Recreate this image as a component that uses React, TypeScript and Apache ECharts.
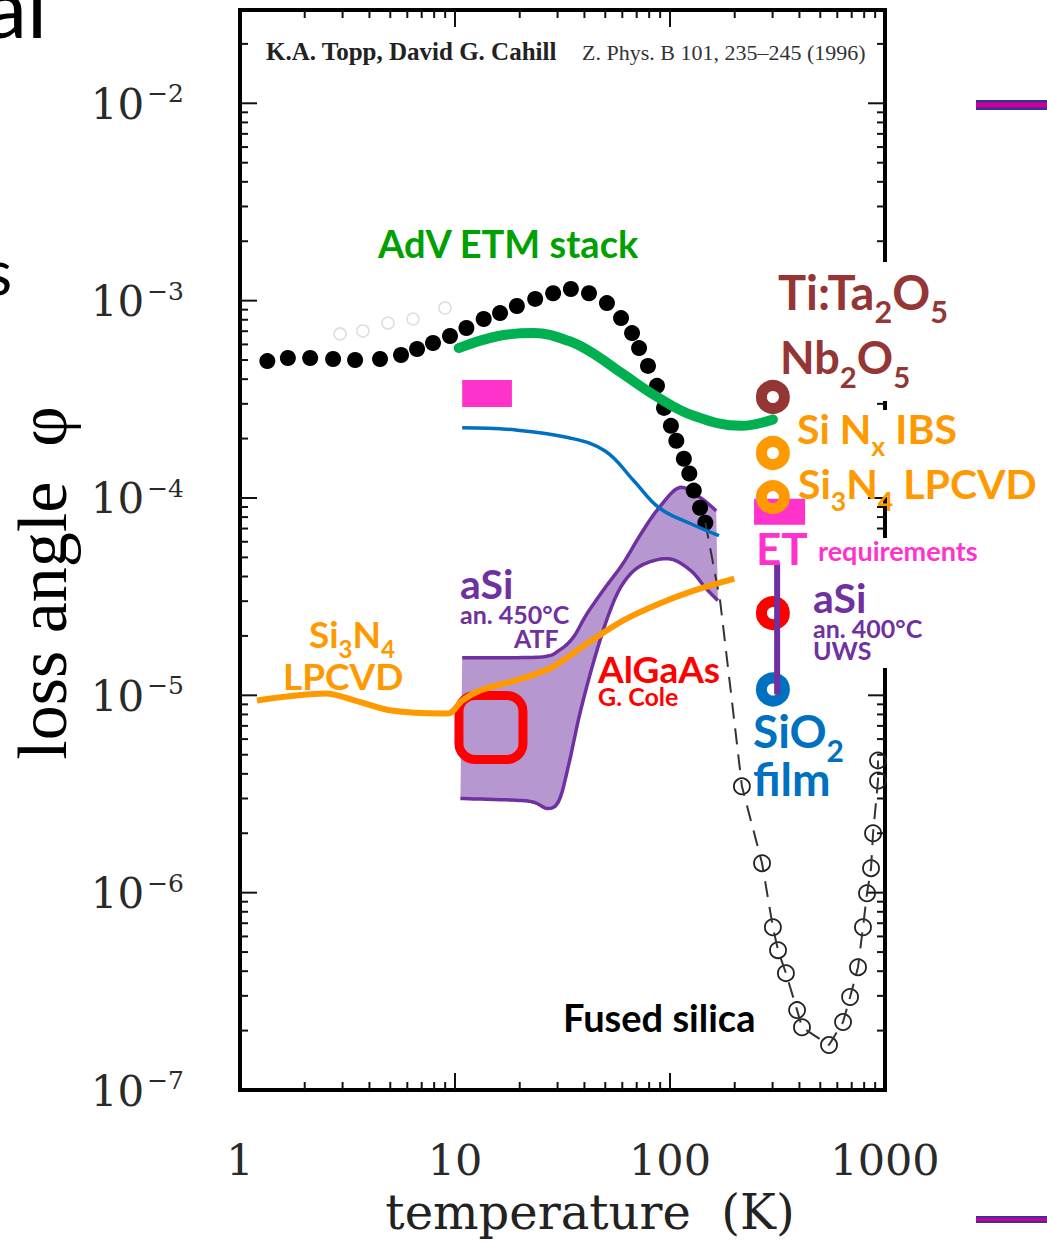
import React, { useEffect, useRef } from 'react';
import * as echarts from 'echarts';

// ---------- axes ----------
const T_MIN = 1;
const T_MAX = 1000;
const PHI_MIN = 1e-7;
const PHI_MAX = 2.97e-2;
const xDecades = [1, 10, 100];
const yDecades = [1e-7, 1e-6, 1e-5, 1e-4, 1e-3, 1e-2];
const logSteps = [1, 2, 3, 4, 5, 6, 7, 8, 9];

// ---------- bulk fused silica (Topp & Cahill), filled dots ----------
const bulkT = [1.34, 1.67, 2.12, 2.71, 3.43, 4.48, 5.61, 6.66, 7.9, 9.48, 11.3, 13.6, 16.2, 19.4, 23.6, 28.6, 34.6, 42.0, 50.9, 59.2, 66.6, 71.8, 79.0, 87.0, 93.8, 101, 107, 116, 123, 129, 138, 146];
const bulkPhi = [4.94e-4, 5.12e-4, 5.12e-4, 5.06e-4, 5.0e-4, 5.06e-4, 5.3e-4, 5.69e-4, 6.1e-4, 6.62e-4, 7.27e-4, 8.07e-4, 8.65e-4, 9.39e-4, 1.02e-3, 1.09e-3, 1.145e-3, 1.09e-3, 9.72e-4, 8.16e-4, 6.85e-4, 5.75e-4, 4.67e-4, 3.7e-4, 2.86e-4, 2.32e-4, 1.95e-4, 1.58e-4, 1.33e-4, 1.09e-4, 8.92e-5, 7.49e-5];

// faint second data set
const faintT = [2.92, 3.73, 4.88, 6.38, 8.98];
const faintPhi = [6.78e-4, 7.02e-4, 7.7e-4, 8.07e-4, 9.18e-4];

// high temperature points, open circles
const hotT = [216, 268, 301, 318, 346, 390, 411, 549, 638, 688, 749, 790, 825, 861, 880, 928, 928];
const hotPhi = [3.46e-6, 1.41e-6, 6.68e-7, 5.11e-7, 3.91e-7, 2.54e-7, 2.08e-7, 1.69e-7, 2.21e-7, 2.96e-7, 4.19e-7, 6.68e-7, 9.93e-7, 1.33e-6, 2.0e-6, 3.7e-6, 4.68e-6];

// dashed guide through the fused silica data
const guideT = [146, 150, 171, 194, 216, 268, 301, 318, 346, 390, 411, 549, 638, 688, 749, 790, 825, 861, 880, 928, 928];
const guidePhi = [7.49e-5, 6.44e-5, 3.02e-5, 9.41e-6, 3.46e-6, 1.41e-6, 6.68e-7, 5.11e-7, 3.91e-7, 2.54e-7, 2.08e-7, 1.69e-7, 2.21e-7, 2.96e-7, 4.19e-7, 6.68e-7, 9.93e-7, 1.33e-6, 2.0e-6, 3.7e-6, 4.68e-6];

// AdV ETM coating stack
const advT = [10.4, 15.9, 23.3, 33.9, 44.3, 60.4, 88.9, 129, 214, 301];
const advPhi = [5.75e-4, 6.62e-4, 6.85e-4, 6.24e-4, 5.37e-4, 4.25e-4, 3.21e-4, 2.61e-4, 2.32e-4, 2.5e-4];

// SiO2 film
const sio2T = [10.8, 19.2, 33.9, 49.9, 68.0, 88.9, 125, 169];
const sio2Phi = [2.27e-4, 2.21e-4, 2.02e-4, 1.73e-4, 1.22e-4, 8.92e-5, 7.4e-5, 6.44e-5];

// Si3N4 LPCVD
const sinT = [1.2, 2.51, 3.43, 5.04, 8.89, 9.58, 10.8, 13.1, 19.2, 28.0, 41.1, 60.4, 88.9, 129, 199];
const sinPhi = [9.41e-6, 1.02e-5, 9.41e-6, 8.38e-6, 8.09e-6, 8.18e-6, 9.41e-6, 1.06e-5, 1.19e-5, 1.38e-5, 1.83e-5, 2.39e-5, 2.91e-5, 3.39e-5, 3.9e-5];

// aSi annealed 450°C (ATF): upper and lower bounds of the band
const asiUpT = [10.8, 15.9, 25.9, 30.5, 35.4, 41.1, 49.9, 60.4, 73.3, 88.9, 111, 139, 164];
const asiUpPhi = [1.55e-5, 1.55e-5, 1.57e-5, 1.69e-5, 1.96e-5, 2.59e-5, 3.51e-5, 4.65e-5, 6.59e-5, 8.92e-5, 1.13e-4, 1.0e-4, 8.61e-5];
const asiLoT = [10.6, 19.2, 23.3, 27.1, 30.5, 33.9, 38.1, 44.3, 52.0, 60.4, 73.3, 98.9, 125, 146, 167];
const asiLoPhi = [3.0e-6, 2.94e-6, 2.87e-6, 2.67e-6, 2.94e-6, 4.52e-6, 8.09e-6, 1.5e-5, 2.59e-5, 3.68e-5, 4.54e-5, 4.92e-5, 4.28e-5, 3.51e-5, 3.02e-5];

// ET requirement boxes: [Tmin, Tmax, phiMin, phiMax]
const etBoxes = [
  [10.8, 18.4, 2.89e-4, 3.96e-4],
  [246, 425, 7.32e-5, 9.9e-5],
];

// AlGaAs (G. Cole)
const algaasT = 14.7;
const algaasPhi = 6.87e-6;

// room temperature films
const roomT = 301;
const roomPhi = [3.25e-4, 1.69e-4, 1.01e-4, 2.61e-5, 1.07e-5];
const roomColors = ['#943634', '#ff9900', '#ff9900', '#ff0000', '#0070c0'];

// aSi annealed 400°C (UWS) range
const asiUwsT = 315;
const asiUwsPhi = [4.7e-5, 1.01e-5];

// ---------- colours ----------
const BROWN = '#943634';
const ORANGE = '#ff9900';
const MAGENTA = '#ff33cc';
const PURPLE = '#7030a0';
const RED = '#ff0000';
const BLUE = '#0070c0';
const GREEN = '#00b050';
const GREEN_TEXT = '#00a000';

type Seg = [string, number?];
interface Label { segs: Seg[]; x: number; y: number; size: number; color: string }

const labels: Label[] = [
  { segs: [['AdV ETM stack']], x: 378, y: 256, size: 38, color: GREEN_TEXT },
  { segs: [['Ti:Ta'], ['2', 1], ['O'], ['5', 1]], x: 778, y: 308, size: 47, color: BROWN },
  { segs: [['Nb'], ['2', 1], ['O'], ['5', 1]], x: 780, y: 373, size: 45, color: BROWN },
  { segs: [['Si N'], ['x', 1], [' IBS']], x: 797, y: 443, size: 41, color: ORANGE },
  { segs: [['Si'], ['3', 1], ['N'], ['4', 1], [' LPCVD']], x: 798, y: 498, size: 41, color: ORANGE },
  { segs: [['ET']], x: 756, y: 563, size: 44, color: MAGENTA },
  { segs: [['requirements']], x: 818, y: 560, size: 27, color: MAGENTA },
  { segs: [['aSi']], x: 813, y: 612, size: 41, color: PURPLE },
  { segs: [['an. 400°C']], x: 813, y: 637, size: 25, color: PURPLE },
  { segs: [['UWS']], x: 813, y: 659, size: 25, color: PURPLE },
  { segs: [['SiO'], ['2', 1]], x: 753, y: 747, size: 46, color: BLUE },
  { segs: [['film']], x: 753, y: 795, size: 46, color: BLUE },
  { segs: [['Fused silica']], x: 563, y: 1030, size: 38, color: '#000' },
  { segs: [['aSi']], x: 460, y: 598, size: 41, color: PURPLE },
  { segs: [['an. 450°C']], x: 460, y: 623, size: 25, color: PURPLE },
  { segs: [['ATF']], x: 514, y: 647, size: 25, color: PURPLE },
  { segs: [['Si'], ['3', 1], ['N'], ['4', 1]], x: 309, y: 646, size: 37, color: ORANGE },
  { segs: [['LPCVD']], x: 283, y: 688, size: 37, color: ORANGE },
  { segs: [['AlGaAs']], x: 598, y: 681, size: 37, color: RED },
  { segs: [['G. Cole']], x: 598, y: 705, size: 25, color: RED },
];

let measureCtx: CanvasRenderingContext2D | null = null;
function measure(text: string, font: string): number {
  if (!measureCtx) measureCtx = document.createElement('canvas').getContext('2d');
  measureCtx!.font = font;
  return measureCtx!.measureText(text).width;
}

function textEl(text: string, x: number, y: number, font: string, fill: string, align = 'left', extra: any = {}) {
  return {
    type: 'text', x, y, z: 100, silent: true, ...extra,
    style: { text, font, fill, textAlign: align, textVerticalAlign: 'middle', align, verticalAlign: 'middle' },
  };
}

// place a label from its baseline; subscripts drop below it
function labelElements(l: Label): any[] {
  const els: any[] = [];
  let cx = l.x;
  for (const [t, sub] of l.segs) {
    const s = sub ? l.size * 0.65 : l.size;
    const base = sub ? l.y + l.size * 0.3 : l.y;
    const font = `bold ${s}px Lato`;
    els.push(textEl(t, cx, base - s * 0.35, font, l.color));
    cx += measure(t, font);
  }
  return els;
}

function catmull(pts: number[][], seg = 10): number[][] {
  const out: number[][] = [];
  for (let i = 0; i < pts.length - 1; i++) {
    const p0 = pts[Math.max(i - 1, 0)], p1 = pts[i], p2 = pts[i + 1], p3 = pts[Math.min(i + 2, pts.length - 1)];
    for (let k = 0; k < seg; k++) {
      const t = k / seg, t2 = t * t, t3 = t2 * t;
      const f = (a: number, b: number, c: number, d: number) =>
        0.5 * (2 * b + (-a + c) * t + (2 * a - 5 * b + 4 * c - d) * t2 + (-a + 3 * b - 3 * c + d) * t3);
      out.push([f(p0[0], p1[0], p2[0], p3[0]), f(p0[1], p1[1], p2[1], p3[1])]);
    }
  }
  out.push(pts[pts.length - 1]);
  return out;
}

const zip = (xs: number[], ys: number[]) => xs.map((x, i) => [x, ys[i]]);

export default function App() {
  const ref = useRef<HTMLDivElement>(null);

  useEffect(() => {
    if (!ref.current) return;
    const chart = echarts.init(ref.current, null, { renderer: 'svg' });

    // tick marks on all four sides: kind 1/2 = x major/minor, 3/4 = y major/minor
    const tickData: number[][] = [];
    xDecades.forEach((d) => logSteps.forEach((k) => {
      const v = d * k;
      if (v > T_MIN && v < T_MAX) tickData.push([v, k === 1 ? 1 : 2]);
    }));
    yDecades.forEach((d) => logSteps.forEach((k) => {
      const v = d * k;
      if (v > PHI_MIN * 1.0001 && v < PHI_MAX) tickData.push([v, k === 1 ? 3 : 4]);
    }));

    const graphicEls: any[] = [];
    // white text boxes hiding the right frame
    [[262, 401], [410, 497], [538, 668]].forEach(([y0, y1]) =>
      graphicEls.push({ type: 'rect', z: 1, silent: true, shape: { x: 793, y: y0, width: 210, height: y1 - y0 }, style: { fill: '#fff' } }));
    // slide decoration bars
    graphicEls.push({ type: 'rect', z: 100, shape: { x: 976, y: 100, width: 71, height: 10 }, style: { fill: '#3b2f9a' } });
    graphicEls.push({ type: 'rect', z: 100, shape: { x: 976, y: 102.5, width: 71, height: 5 }, style: { fill: '#cc0099' } });
    graphicEls.push({ type: 'rect', z: 100, shape: { x: 976, y: 1216, width: 71, height: 7 }, style: { fill: '#3b2f9a' } });
    graphicEls.push({ type: 'rect', z: 100, shape: { x: 976, y: 1218, width: 71, height: 3 }, style: { fill: '#cc0099' } });
    // slide title fragments
    graphicEls.push(textEl('al', 47, 35 - 85 * 0.35, '85px Lato', '#000', 'right'));
    graphicEls.push(textEl('s', 12, 293 - 62 * 0.35, '62px Lato', '#000', 'right'));
    // citation header
    graphicEls.push(textEl('K.A. Topp, David G. Cahill', 266, 60 - 25 * 0.34, 'bold 25px "Liberation Serif"', '#222'));
    graphicEls.push(textEl('Z. Phys. B 101, 235–245 (1996)', 582, 60 - 22 * 0.34, '22px "Liberation Serif"', '#333'));
    // axis names
    graphicEls.push(textEl('temperature  (K)', 590, 1229 - 48 * 0.35, '48px "DejaVu Serif"', '#222', 'center'));
    graphicEls.push(textEl('loss angle  φ', 42, 583, '70px "Liberation Serif"', '#000', 'center', { rotation: Math.PI / 2 }));
    labels.forEach((l) => graphicEls.push(...labelElements(l)));

    const option: any = {
      animation: false,
      backgroundColor: '#fff',
      grid: {
        left: 240, top: 10, width: 645, height: 1080,
        show: true, borderColor: '#000', borderWidth: 4, backgroundColor: 'transparent',
        containLabel: false, outerBoundsMode: 'none',
      },
      xAxis: {
        type: 'log', logBase: 10, min: T_MIN, max: T_MAX,
        axisLine: { show: false }, axisTick: { show: false }, splitLine: { show: false },
        axisLabel: {
          margin: 48, color: '#2a2a2a', fontFamily: 'DejaVu Serif', fontSize: 43,
          showMinLabel: true, showMaxLabel: true,
          formatter: (v: number) => {
            const e = Math.log10(v);
            return Math.abs(e - Math.round(e)) < 1e-6 ? String(Math.round(v)) : '';
          },
        },
      },
      yAxis: {
        type: 'log', logBase: 10, min: PHI_MIN, max: PHI_MAX, splitNumber: 6,
        axisLine: { show: false }, axisTick: { show: false }, splitLine: { show: false },
        axisLabel: {
          margin: 56, showMinLabel: true, showMaxLabel: true,
          formatter: (v: number) => {
            const e = Math.log10(v);
            const r = Math.round(e);
            if (Math.abs(e - r) > 1e-6) return '';
            return `{b|10}{s|−${-r}}`;
          },
          rich: {
            b: { fontFamily: 'DejaVu Serif', fontSize: 42, lineHeight: 44, color: '#2a2a2a', verticalAlign: 'bottom' },
            s: { fontFamily: 'DejaVu Serif', fontSize: 25, lineHeight: 26, color: '#2a2a2a', verticalAlign: 'top', padding: [0, 0, 0, 3] },
          },
        },
      },
      series: [
        {
          type: 'custom', z: 0, silent: true, clip: false,
          data: tickData,
          renderItem: (params: any, api: any) => {
            const v = api.value(0);
            const kind = api.value(1);
            const cs = params.coordSys;
            const len = kind === 1 || kind === 3 ? 17 : 8;
            const style = { stroke: '#111', lineWidth: 2 };
            if (kind <= 2) {
              const px = api.coord([v, PHI_MIN])[0];
              const b = cs.y + cs.height;
              return {
                type: 'group', children: [
                  { type: 'line', shape: { x1: px, y1: b, x2: px, y2: b - len }, style },
                  { type: 'line', shape: { x1: px, y1: cs.y, x2: px, y2: cs.y + len }, style },
                ],
              };
            }
            const py = api.coord([T_MIN, v])[1];
            const r = cs.x + cs.width;
            return {
              type: 'group', children: [
                { type: 'line', shape: { x1: cs.x, y1: py, x2: cs.x + len, y2: py }, style },
                { type: 'line', shape: { x1: r, y1: py, x2: r - len, y2: py }, style },
              ],
            };
          },
        },
        {
          type: 'scatter', silent: true, symbol: 'circle', symbolSize: 12,
          itemStyle: { color: 'rgba(0,0,0,0)', borderColor: '#dedede', borderWidth: 1.5, opacity: 1 },
          data: zip(faintT, faintPhi),
        },
        {
          type: 'scatter', silent: true, symbol: 'circle', symbolSize: 16,
          itemStyle: { color: '#000', opacity: 1 },
          data: zip(bulkT, bulkPhi),
        },
        {
          type: 'line', silent: true, showSymbol: false,
          lineStyle: { color: '#333', width: 2, type: [16, 10] },
          data: zip(guideT, guidePhi),
        },
        {
          type: 'scatter', silent: true, symbol: 'circle', symbolSize: 16,
          itemStyle: { color: 'rgba(0,0,0,0)', borderColor: '#222', borderWidth: 1.8, opacity: 1 },
          data: zip(hotT, hotPhi),
        },
        {
          type: 'custom', silent: true, clip: false,
          data: [[asiUpT[0], asiUpPhi[0]]],
          renderItem: (_params: any, api: any) => {
            const up = catmull(asiUpT.map((t, i) => api.coord([t, asiUpPhi[i]])));
            const lo = catmull(asiLoT.map((t, i) => api.coord([t, asiLoPhi[i]])));
            return {
              type: 'group', children: [
                { type: 'polygon', shape: { points: up.concat(lo.slice().reverse()) }, style: { fill: 'rgba(112,48,160,0.5)' } },
                { type: 'polyline', shape: { points: up }, style: { stroke: PURPLE, lineWidth: 3.5, fill: null } },
                { type: 'polyline', shape: { points: lo }, style: { stroke: PURPLE, lineWidth: 3.5, fill: null } },
              ],
            };
          },
        },
        {
          type: 'line', silent: true, showSymbol: false, smooth: 0.4,
          lineStyle: { color: GREEN, width: 10, cap: 'round' },
          data: zip(advT, advPhi),
        },
        {
          type: 'line', silent: true, showSymbol: false, smooth: 0.4,
          lineStyle: { color: BLUE, width: 3.5 },
          data: zip(sio2T, sio2Phi),
        },
        {
          type: 'line', silent: true, showSymbol: false, smooth: 0.3,
          lineStyle: { color: ORANGE, width: 6 },
          data: zip(sinT, sinPhi),
        },
        {
          type: 'custom', silent: true, clip: false,
          data: etBoxes,
          renderItem: (_params: any, api: any) => {
            const a = api.coord([api.value(0), api.value(3)]);
            const b = api.coord([api.value(1), api.value(2)]);
            return { type: 'rect', shape: { x: a[0], y: a[1], width: b[0] - a[0], height: b[1] - a[1] }, style: { fill: MAGENTA } };
          },
        },
        {
          type: 'scatter', silent: true, symbol: 'roundRect', symbolSize: 64,
          itemStyle: { color: 'rgba(0,0,0,0)', borderColor: RED, borderWidth: 9, opacity: 1 },
          data: [[algaasT, algaasPhi]],
        },
        {
          type: 'scatter', silent: true, symbol: 'circle', symbolSize: 23,
          data: roomPhi.map((p, i) => ({
            value: [roomT, p],
            itemStyle: { color: 'rgba(0,0,0,0)', borderColor: roomColors[i], borderWidth: 11, opacity: 1 },
          })),
        },
        {
          type: 'line', silent: true, showSymbol: false,
          lineStyle: { color: PURPLE, width: 6 },
          data: asiUwsPhi.map((p) => [asiUwsT, p]),
        },
      ],
      graphic: { elements: graphicEls },
    };

    chart.setOption(option);
    return () => chart.dispose();
  }, []);

  return <div ref={ref} style={{ position: 'absolute', left: 0, top: 0, width: 1047, height: 1243 }} />;
}
